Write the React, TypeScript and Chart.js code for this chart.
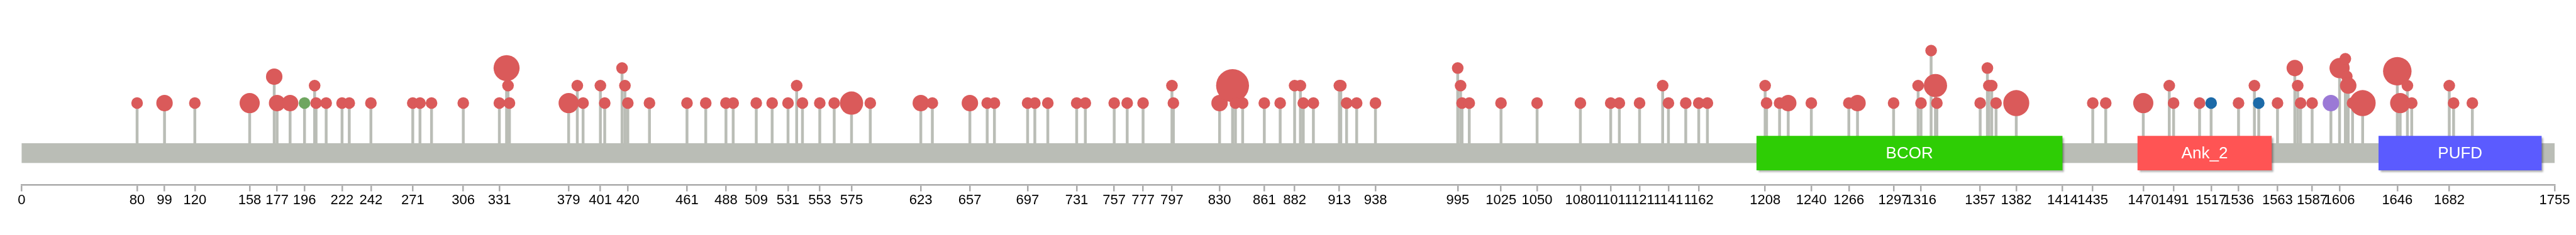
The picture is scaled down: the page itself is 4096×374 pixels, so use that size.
import { useEffect, useRef } from 'react';
import { Chart, registerables } from 'chart.js';

Chart.register(...registerables);

// ---------------- data ----------------
const PROTEIN_LENGTH = 1755;

const tickValues = [
  0, 80, 99, 120, 158, 177, 196, 222, 242, 271, 306, 331, 379, 401, 420, 461, 488, 509, 531, 553,
  575, 623, 657, 697, 731, 757, 777, 797, 830, 861, 882, 913, 938, 995, 1025, 1050, 1080, 1101,
  1121, 1141, 1162, 1208, 1240, 1266, 1297, 1316, 1357, 1382, 1414, 1435, 1470, 1491, 1517, 1536,
  1563, 1587, 1606, 1646, 1682, 1755,
];

const domainNames = ['BCOR', 'Ank_2', 'PUFD'];
const domainStarts = [1202, 1466, 1633];
const domainEnds = [1414, 1559, 1746];

// mutation positions, needle heights, sample counts (head size), mutation class
const mutPositions = [
  80, 99, 120, 158, 175, 177, 186, 196, 203, 204, 211, 222, 227, 242, 271, 276, 284, 306, 331, 336,
  337, 338, 379, 385, 389, 401, 404, 416, 418, 420, 435, 461, 474, 488, 493, 509, 520, 531, 537, 541,
  553, 563, 575, 588, 623, 631, 657, 669, 674, 697, 702, 711, 731, 737, 757, 766, 777, 797, 798, 830,
  839, 841, 846, 861, 872, 882, 886, 888, 895, 913, 914, 918, 925, 938, 995, 997, 998, 1003, 1025, 1050,
  1080, 1101, 1107, 1121, 1137, 1141, 1153, 1162, 1168, 1208, 1209, 1218, 1224, 1240, 1266, 1272, 1297, 1314, 1316, 1323,
  1326, 1327, 1357, 1362, 1363, 1365, 1368, 1382, 1435, 1444, 1470, 1488, 1491, 1509, 1517, 1536, 1547, 1550, 1563, 1575,
  1577, 1579, 1587, 1600, 1606, 1610, 1611, 1612, 1615, 1622, 1646, 1648, 1653, 1656, 1682, 1685, 1698,
];
const mutHeights = [
  1, 1, 1, 1, 2.51, 1, 1, 1, 2, 1, 1, 1, 1, 1, 1, 1, 1, 1, 1, 3,
  2, 1, 1, 2, 1, 2, 1, 3, 2, 1, 1, 1, 1, 1, 1, 1, 1, 1, 2, 1,
  1, 1, 1, 1, 1, 1, 1, 1, 1, 1, 1, 1, 1, 1, 1, 1, 1, 2, 1, 1,
  2, 1, 1, 1, 1, 2, 2, 1, 1, 2, 2, 1, 1, 1, 3, 2, 1, 1, 1, 1,
  1, 1, 1, 1, 2, 1, 1, 1, 1, 2, 1, 1, 1, 1, 1, 1, 1, 2, 1, 4,
  2, 1, 1, 3, 2, 2, 1, 1, 1, 1, 1, 2, 1, 1, 1, 1, 2, 1, 1, 3,
  2, 1, 1, 1, 3, 3.53, 2.53, 2, 1, 1, 2.82, 1, 2, 1, 2, 1, 1,
];
const mutCounts = [
  1, 2, 1, 3, 2, 2, 2, 1, 1, 1, 1, 1, 1, 1, 1, 1, 1, 1, 1, 5,
  1, 1, 3, 1, 1, 1, 1, 1, 1, 1, 1, 1, 1, 1, 1, 1, 1, 1, 1, 1,
  1, 1, 4, 1, 2, 1, 2, 1, 1, 1, 1, 1, 1, 1, 1, 1, 1, 1, 1, 2,
  8, 1, 1, 1, 1, 1, 1, 1, 1, 1, 1, 1, 1, 1, 1, 1, 1, 1, 1, 1,
  1, 1, 1, 1, 1, 1, 1, 1, 1, 1, 1, 1, 2, 1, 1, 2, 1, 1, 1, 1,
  4, 1, 1, 1, 1, 1, 1, 5, 1, 1, 3, 1, 1, 1, 1, 1, 1, 1, 1, 2,
  1, 1, 1, 2, 3, 1, 1, 2, 1, 5, 6, 3, 1, 1, 1, 1, 1,
];
const mutClasses = mutPositions.map((p) =>
  p === 196 ? 'Silent' : p === 1517 || p === 1550 ? 'Nonsense' : p === 1600 ? 'Frame_Shift' : 'Missense'
);

const classNames = ['Missense', 'Silent', 'Nonsense', 'Frame_Shift'];

// ---------------- styles ----------------
const S = 0.819;
const classColors: Record<string, string> = {
  Missense: '#da5a5a',
  Silent: '#6fa660',
  Nonsense: '#1c6aa8',
  Frame_Shift: '#9b79d6',
};
const domainColors = ['#2ecd05', '#ff5454', '#5b5bff'];
const BACKBONE = '#babdb6';
const AXIS = '#aaaaaa';
const FONT = '"Liberation Sans", Arial, Helvetica, sans-serif';
const BASE_R = 11.3 * S;

// vertical layout in needle-height units
const Y_MIN = -3.685;
const Y_MAX = 6.891;
const BB_TOP = -1.294;
const BB_BOTTOM = -2.424;
const DOM_TOP = -0.874;
const DOM_BOTTOM = -2.844;

const needlePlugin = {
  id: 'needles',
  beforeDatasetsDraw(chart: any) {
    const { ctx } = chart;
    const x = chart.scales.x;
    const y = chart.scales.y;
    ctx.save();
    // stems
    ctx.strokeStyle = BACKBONE;
    ctx.lineWidth = 4.5;
    ctx.lineCap = 'butt';
    const base = y.getPixelForValue((BB_TOP + BB_BOTTOM) / 2);
    mutPositions.forEach((p, i) => {
      const px = x.getPixelForValue(p);
      ctx.beginPath();
      ctx.moveTo(px, base);
      ctx.lineTo(px, y.getPixelForValue(mutHeights[i]));
      ctx.stroke();
    });
    // backbone
    const x0 = x.getPixelForValue(0);
    const x1 = x.getPixelForValue(PROTEIN_LENGTH);
    const bt = y.getPixelForValue(BB_TOP);
    const bb = y.getPixelForValue(BB_BOTTOM);
    ctx.fillStyle = BACKBONE;
    ctx.fillRect(x0, bt, x1 - x0, bb - bt);
    // domains
    const dt = y.getPixelForValue(DOM_TOP);
    const db = y.getPixelForValue(DOM_BOTTOM);
    domainNames.forEach((name, i) => {
      const a = x.getPixelForValue(domainStarts[i]);
      const b = x.getPixelForValue(domainEnds[i]);
      ctx.save();
      ctx.shadowColor = 'rgba(0,0,0,0.35)';
      ctx.shadowOffsetX = 3;
      ctx.shadowOffsetY = 3;
      ctx.shadowBlur = 3;
      ctx.fillStyle = domainColors[i];
      ctx.fillRect(a, dt, b - a, db - dt);
      ctx.restore();
      ctx.fillStyle = '#ffffff';
      ctx.font = `26px ${FONT}`;
      ctx.textAlign = 'center';
      ctx.textBaseline = 'middle';
      ctx.fillText(name, (a + b) / 2, (dt + db) / 2 + 1);
    });
    ctx.restore();
  },
};

export default function App() {
  const ref = useRef<HTMLCanvasElement | null>(null);
  useEffect(() => {
    if (!ref.current) return;
    const datasets = classNames.map((cls) => {
      const data: { x: number; y: number; r: number }[] = [];
      mutPositions.forEach((p, i) => {
        if (mutClasses[i] === cls) data.push({ x: p, y: mutHeights[i], r: BASE_R * Math.sqrt(mutCounts[i]) });
      });
      return {
        label: cls,
        data,
        backgroundColor: classColors[cls],
        borderWidth: 0,
        hoverBorderWidth: 0,
        clip: false,
      };
    });
    const chart = new Chart(ref.current, {
      type: 'bubble',
      data: { datasets },
      plugins: [needlePlugin],
      options: {
        responsive: false,
        animation: false,
        devicePixelRatio: 1,
        events: [],
        layout: { autoPadding: false, padding: { left: 34.4, right: 34.0, top: 0, bottom: 0 } },
        plugins: { legend: { display: false }, tooltip: { enabled: false } },
        scales: {
          x: {
            type: 'linear',
            position: 'bottom',
            min: 0,
            max: PROTEIN_LENGTH,
            afterBuildTicks: (scale: any) => {
              scale.ticks = tickValues.map((v) => ({ value: v }));
            },
            afterFit: (scale: any) => {
              scale.height = 79.5;
            },
            ticks: {
              autoSkip: false,
              maxRotation: 0,
              minRotation: 0,
              padding: 1,
              color: '#000000',
              font: { family: FONT, size: 22 },
              callback: (v: any) => String(v),
            },
            grid: { drawOnChartArea: false, drawTicks: true, tickLength: 10, color: AXIS, lineWidth: 2.5 },
            border: { display: true, color: AXIS, width: 2.5 },
          },
          y: { type: 'linear', display: false, min: Y_MIN, max: Y_MAX },
        },
      },
    } as any);
    return () => chart.destroy();
  }, []);
  return (
    <div style={{ position: 'fixed', left: 0, top: 0, width: 4096, height: 374, background: '#fff' }}>
      <canvas ref={ref} width={4096} height={374} style={{ display: 'block' }} />
    </div>
  );
}
